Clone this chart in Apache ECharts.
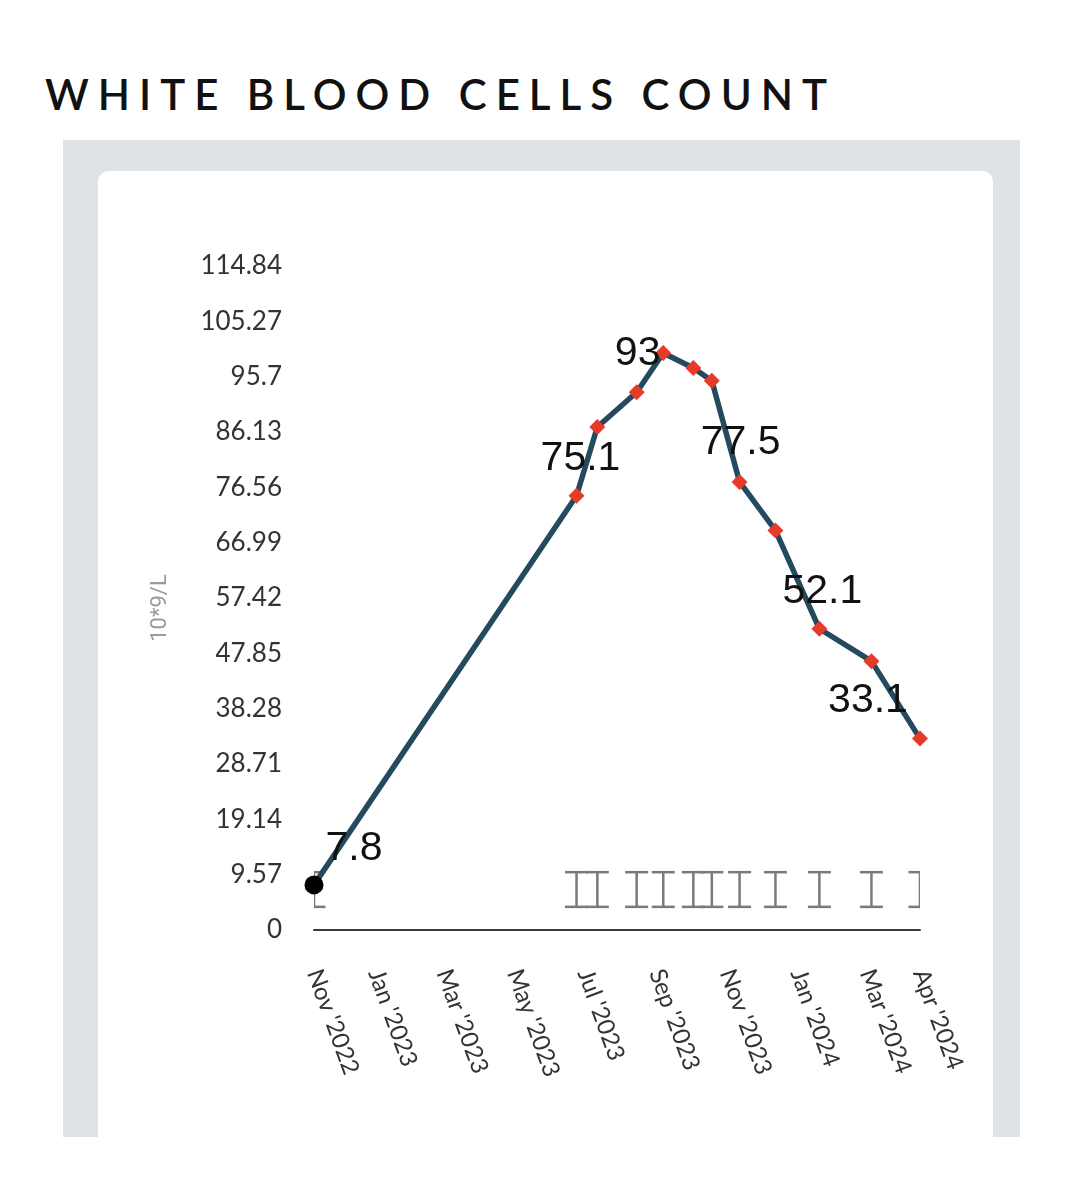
<!DOCTYPE html>
<html><head><meta charset="utf-8">
<script src="https://cdn.jsdelivr.net/npm/echarts@6/dist/echarts.min.js"></script>
<style>
html,body{margin:0;padding:0;background:#fff;width:1083px;height:1200px;overflow:hidden;}
#title{position:absolute;left:45px;top:67px;margin:0;font-family:Lato,'Open Sans',sans-serif;font-size:42px;font-weight:600;letter-spacing:9px;color:#111;line-height:54px;white-space:nowrap;}
#frame{position:absolute;left:63px;top:140px;width:957px;height:997px;background:#dde3e6;}
#card{position:absolute;left:98px;top:171px;width:895px;height:966px;background:#fff;border-radius:10px 10px 0 0;}
#chart{position:absolute;left:0;top:0;width:1083px;height:1200px;}
</style></head>
<body>
<h1 id="title">WHITE BLOOD CELLS COUNT</h1>
<div id="frame"></div><div id="card"></div>
<div id="chart"></div>
<script>
// ---- data ----
const dates = ['2022-11-09','2023-06-24','2023-07-12','2023-08-15','2023-09-07','2023-10-03',
               '2023-10-19','2023-11-12','2023-12-13','2024-01-20','2024-03-05','2024-04-16'];
const wbcValues = [7.8, 75.1, 87.0, 93, 99.8, 97.2, 95.0, 77.5, 69.1, 52.1, 46.5, 33.1];
const refLow  = [4, 4, 4, 4, 4, 4, 4, 4, 4, 4, 4, 4];
const refHigh = [10, 10, 10, 10, 10, 10, 10, 10, 10, 10, 10, 10];
const xTickDates = ['2022-11-09','2023-01-01','2023-03-01','2023-05-01','2023-07-01','2023-09-01',
                    '2023-11-01','2024-01-01','2024-03-01','2024-04-16'];
const yTickValues = [0, 9.57, 19.14, 28.71, 38.28, 47.85, 57.42, 66.99, 76.56, 86.13, 95.7, 105.27, 114.84];
const monthNames = ['Jan','Feb','Mar','Apr','May','Jun','Jul','Aug','Sep','Oct','Nov','Dec'];
const unitName = '10*9/L';
const labelledPoints = [0, 1, 3, 7, 9, 11];

const ts = s => new Date(s + 'T00:00:00').getTime();
const xTimes = dates.map(ts);
const xTickTimes = xTickDates.map(ts);

// ---- styling per point ----
const labelOffsets = {0: [40, -36], 1: [4, -37], 3: [1, -39], 7: [1, -39], 9: [3, -37], 11: [-52, -38]};
const lineData = xTimes.map((t, i) => {
  const item = { value: [t, wbcValues[i]] };
  if (i === 0) {
    item.symbol = 'circle'; item.symbolSize = 19; item.itemStyle = { color: '#000' };
  }
  if (labelledPoints.includes(i)) {
    item.label = { show: true, position: 'inside', offset: labelOffsets[i] };
  }
  return item;
});
const rangeData = xTimes.map((t, i) => [t, refLow[i], refHigh[i]]);

const chart = echarts.init(document.getElementById('chart'), null, { renderer: 'canvas' });
chart.setOption({
  animation: false,
  backgroundColor: 'transparent',
  grid: { left: 314, right: 163, top: 266, bottom: 270, containLabel: false },
  xAxis: {
    type: 'value', min: xTimes[0], max: xTimes[xTimes.length - 1],
    axisLine: { show: true, onZero: false, lineStyle: { color: '#3a3a3a', width: 2 } },
    axisTick: { show: false },
    splitLine: { show: false },
    axisLabel: {
      customValues: xTickTimes,
      rotate: -70, margin: 40,
      color: '#333', fontSize: 24, fontFamily: 'Lato, "Open Sans", sans-serif',
      formatter: v => { const t = new Date(v); return monthNames[t.getMonth()] + " '" + t.getFullYear(); }
    }
  },
  yAxis: {
    type: 'value', min: yTickValues[0], max: yTickValues[yTickValues.length - 1],
    name: unitName, nameLocation: 'middle', nameGap: 143,
    nameTextStyle: { color: '#9a9a9a', fontSize: 22, fontFamily: 'Roboto, sans-serif', padding: [0, 20, 0, 0] },
    axisLine: { show: false }, axisTick: { show: false }, splitLine: { show: false },
    axisLabel: {
      customValues: yTickValues, margin: 32,
      color: '#333', fontSize: 26, fontFamily: 'Lato, "Open Sans", sans-serif',
      formatter: v => String(+(+v).toFixed(2))
    }
  },
  series: [
    {
      type: 'custom', clip: true, z: 1, silent: true,
      data: rangeData,
      renderItem: (params, api) => {
        const lo = api.coord([api.value(0), api.value(1)]);
        const hi = api.coord([api.value(0), api.value(2)]);
        const hw = 11.5;
        const style = { stroke: '#7a7a7a', lineWidth: 2.5, fill: null };
        return { type: 'group', children: [
          { type: 'line', shape: { x1: lo[0], y1: lo[1], x2: hi[0], y2: hi[1] }, style },
          { type: 'line', shape: { x1: lo[0] - hw, y1: lo[1], x2: lo[0] + hw, y2: lo[1] }, style },
          { type: 'line', shape: { x1: hi[0] - hw, y1: hi[1], x2: hi[0] + hw, y2: hi[1] }, style }
        ]};
      }
    },
    {
      type: 'line', z: 3, data: lineData,
      symbol: 'diamond', symbolSize: 16, showAllSymbol: true,
      lineStyle: { color: '#244a5e', width: 5.5 },
      itemStyle: { color: '#e63a2b' },
      label: { show: false, color: '#111', fontSize: 41, fontFamily: '"Liberation Sans", Arial, sans-serif' }
    }
  ]
});
</script>
</body></html>
